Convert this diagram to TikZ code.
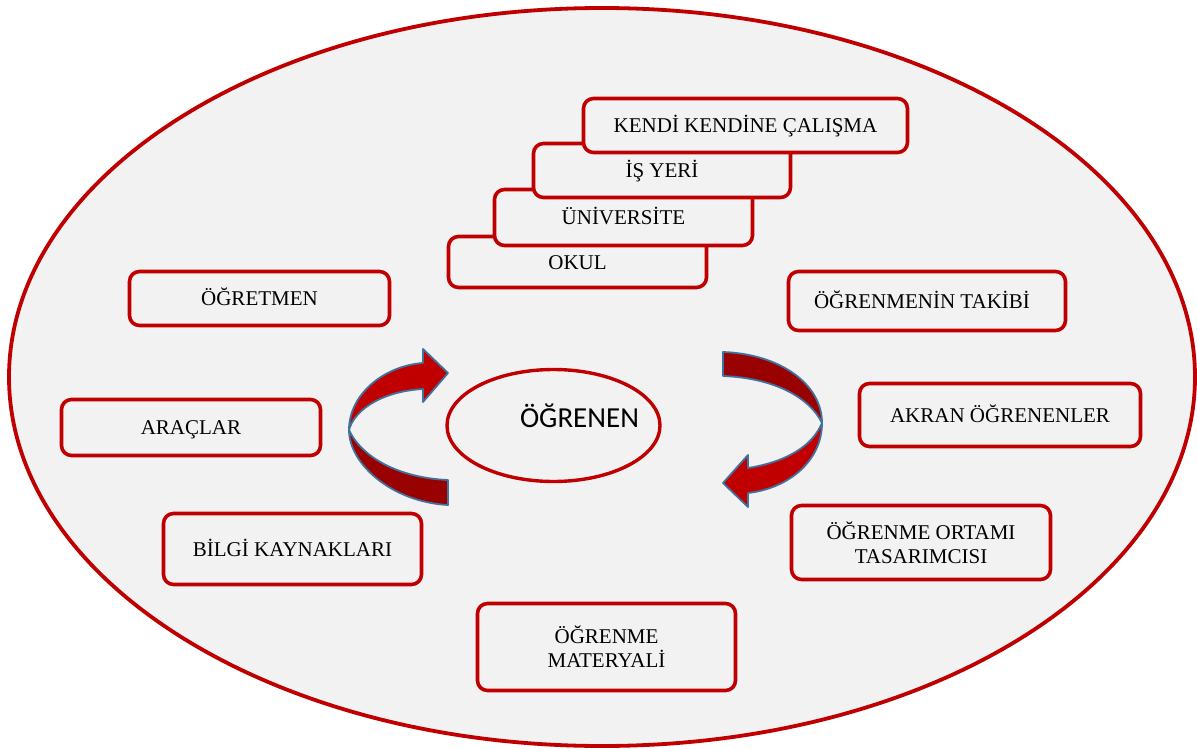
\documentclass[tikz,border=0pt]{standalone}
\usepackage{fontspec}
\setmainfont{Liberation Serif}
\newfontfamily\labelsans{Carlito}
\usetikzlibrary{shapes.geometric}

\definecolor{frame}{HTML}{C00000}
\definecolor{paper}{HTML}{F2F2F2}
\definecolor{brightred}{HTML}{C00000}
\definecolor{darkred}{HTML}{990000}
\definecolor{rim}{HTML}{41719C}

\begin{document}
\begin{tikzpicture}[x=1pt,y=-1pt,
  box/.style={draw=frame, fill=paper, line width=3.6pt, rounded corners=10pt,
    inner sep=0pt, font=\fontsize{21}{24}\selectfont, text height=14.5pt, text depth=0pt},
  twobox/.style={draw=frame, fill=paper, line width=3.6pt, rounded corners=10pt,
    inner sep=0pt, font=\fontsize{21}{24}\selectfont, align=center},
  band/.style={draw=rim, line width=1.8pt, line join=round}]

\useasboundingbox (0,0) rectangle (1197,749);
\fill[white] (0,0) rectangle (1197,749);

% surrounding environment
\node[ellipse, draw=frame, fill=paper, line width=3.8pt,
  minimum width=1186pt, minimum height=738pt, inner sep=0pt] (world) at (602,377) {};

% stacked learning places
\node[box, minimum width=258pt, minimum height=51pt] (okul) at (577.5,262) {OKUL};
\node[box, minimum width=258pt, minimum height=56pt] (uni) at (623.5,217.5) {ÜNİVERSİTE};
\node[box, minimum width=257pt, minimum height=54pt] (isyeri) at (662,170.5) {İŞ YERİ};
\node[box, minimum width=324pt, minimum height=54pt] (kendi) at (745.5,125.5) {KENDİ KENDİNE ÇALIŞMA};

% surrounding actors and resources
\node[box, minimum width=260pt, minimum height=54pt] (ogretmen) at (259.5,298.5) {ÖĞRETMEN};
\node[box, minimum width=277pt, minimum height=59pt] (takip) at (927,301) {ÖĞRENMENİN TAKİBİ\hspace*{10pt}};
\node[box, minimum width=281pt, minimum height=63pt] (akran) at (1000,415) {AKRAN ÖĞRENENLER};
\node[box, minimum width=259pt, minimum height=56pt] (araclar) at (191,427.5) {ARAÇLAR};
\node[box, minimum width=258pt, minimum height=71pt] (bilgi) at (292.5,549) {BİLGİ KAYNAKLARI};
\node[twobox, minimum width=259pt, minimum height=74pt] (ortam) at (921,542.5) {ÖĞRENME ORTAMI\\TASARIMCISI};
\node[twobox, minimum width=258pt, minimum height=87pt] (materyal) at (606.5,647) {ÖĞRENME\\MATERYALİ};

% the learner at the centre
\node[ellipse, draw=frame, fill=paper, line width=3.4pt,
  minimum width=213pt, minimum height=112pt, inner sep=0pt] (ogrenen) at (553.5,425.5) {};
\node[anchor=base, inner sep=0pt, font=\labelsans\fontsize{29}{31}\selectfont] (ogrenentext) at (579.5,427) {ÖĞRENEN};

% left curved arrow: dark lower band, bright upper band with head
\path[band, fill=darkred] (349,430) .. controls (349,464) and (392,502) .. (448,505)
  -- (448,480) .. controls (400,478) and (362,458) .. (349,430) -- cycle;
\path[band, fill=brightred] (349,430) .. controls (349,395) and (383,366) .. (423,363)
  -- (423,349) -- (448,373) -- (423,402) -- (423,389)
  .. controls (385,391) and (355,408) .. (349,430) -- cycle;

% right curved arrow: dark upper band, bright lower band with head
\path[band, fill=darkred] (723,352) .. controls (780,354) and (822,384) .. (822,423)
  .. controls (810,398) and (775,378) .. (723,376) -- cycle;
\path[band, fill=brightred] (822,423) .. controls (822,460) and (790,488) .. (748,493)
  -- (748,507) -- (723,483) -- (748,455) -- (748,468)
  .. controls (785,462) and (812,447) .. (822,423) -- cycle;

\end{tikzpicture}
\end{document}
